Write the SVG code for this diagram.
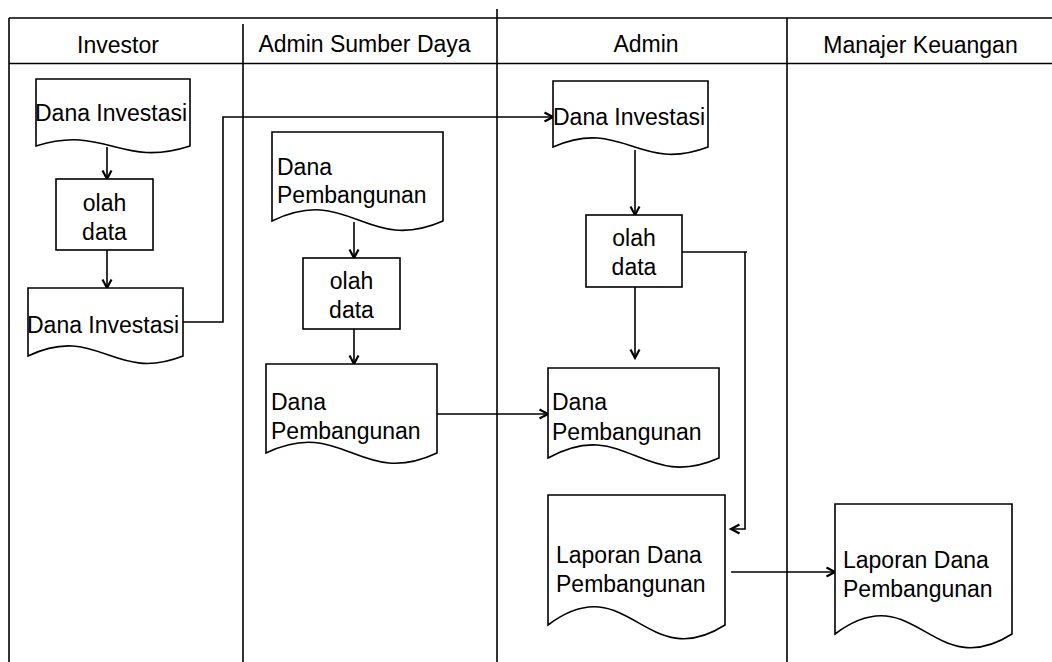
<svg xmlns="http://www.w3.org/2000/svg" width="1052" height="662" viewBox="0 0 1052 662">
<style>
.ln{fill:none;stroke:#000;stroke-width:1.6}
.shp{fill:#fff;stroke:#000;stroke-width:1.6}
text{font-family:"Liberation Sans",Arial,sans-serif;font-size:23px;fill:#000}
.c{text-anchor:middle}
</style>
<defs>
<marker id="arr" markerWidth="14" markerHeight="14" refX="10" refY="6" orient="auto" markerUnits="userSpaceOnUse">
<path d="M1.5,1.5 L10,6 L1.5,10.5" fill="none" stroke="#000" stroke-width="2.2" stroke-linejoin="miter"/>
</marker>
</defs>
<rect width="1052" height="662" fill="#fff"/>
<g id="frame">
<path class="ln" d="M9,18 H1052 M9,63.5 H1052 M9,18 V662 M243,24 V662 M497,9 V662 M787,18 V662"/>
<text class="c" x="118" y="53">Investor</text>
<text class="c" x="364.5" y="52">Admin Sumber Daya</text>
<text class="c" x="646" y="52">Admin</text>
<text class="c" x="920.5" y="53">Manajer Keuangan</text>
</g>
<g id="connectors">
<path class="ln" d="M107,147 V179" marker-end="url(#arr)"/>
<path class="ln" d="M107,250 V288" marker-end="url(#arr)"/>
<path class="ln" d="M183,322 H223 V117 H553" marker-end="url(#arr)"/>
<path class="ln" d="M354,222 V258" marker-end="url(#arr)"/>
<path class="ln" d="M354,329 V364" marker-end="url(#arr)"/>
<path class="ln" d="M437,414 H548" marker-end="url(#arr)"/>
<path class="ln" d="M635,150 V215" marker-end="url(#arr)"/>
<path class="ln" d="M635,287 V358" marker-end="url(#arr)"/>
<path class="ln" d="M682,252 H747 M745,252 V529 H731" marker-end="url(#arr)"/>
<path class="ln" d="M731,572 H835" marker-end="url(#arr)"/>
</g>
<g id="inv-doc1">
<path class="shp" d="M36,79 H190 V146 C120.7,168.7 105.3,124.2 36,146 Z"/>
<text x="35" y="121">Dana Investasi</text>
</g>
<g id="inv-proc">
<rect class="shp" x="56" y="179" width="97" height="71"/>
<text class="c" x="104.5" y="211">olah</text>
<text class="c" x="104.5" y="240">data</text>
</g>
<g id="inv-doc2">
<path class="shp" d="M28,288 H183 V356 C113.3,383.6 97.8,323.1 28,356 Z"/>
<text x="27" y="333">Dana Investasi</text>
</g>
<g id="asd-doc1">
<path class="shp" d="M272,132 H443 V221 C366,254.8 349,183.6 272,221 Z"/>
<text x="277" y="175">Dana</text>
<text x="277" y="203">Pembangunan</text>
</g>
<g id="asd-proc">
<rect class="shp" x="303" y="258" width="97" height="71"/>
<text class="c" x="351.5" y="289">olah</text>
<text class="c" x="351.5" y="318">data</text>
</g>
<g id="asd-doc2">
<path class="shp" d="M266,364 H437 V453 C360,489 343,416.1 266,453 Z"/>
<text x="271" y="410">Dana</text>
<text x="271" y="439">Pembangunan</text>
</g>
<g id="adm-doc1">
<path class="shp" d="M553,81 H708 V147 C638.3,173.7 622.8,116.8 553,147 Z"/>
<text x="553" y="125">Dana Investasi</text>
</g>
<g id="adm-proc">
<rect class="shp" x="586" y="215" width="96" height="72"/>
<text class="c" x="634" y="246">olah</text>
<text class="c" x="634" y="275">data</text>
</g>
<g id="adm-doc2">
<path class="shp" d="M548,368 H719 V458 C642,492.3 625,415.7 548,458 Z"/>
<text x="552" y="410">Dana</text>
<text x="552" y="440">Pembangunan</text>
</g>
<g id="adm-doc3">
<path class="shp" d="M548,495 H725 V625 C645.4,675.7 627.7,565.4 548,625 Z"/>
<text x="556" y="563">Laporan Dana</text>
<text x="556" y="592">Pembangunan</text>
</g>
<g id="mgr-doc">
<path class="shp" d="M835,504 H1012 V634 C932.4,684.7 914.7,574.4 835,634 Z"/>
<text x="843" y="568">Laporan Dana</text>
<text x="843" y="597">Pembangunan</text>
</g>
</svg>
